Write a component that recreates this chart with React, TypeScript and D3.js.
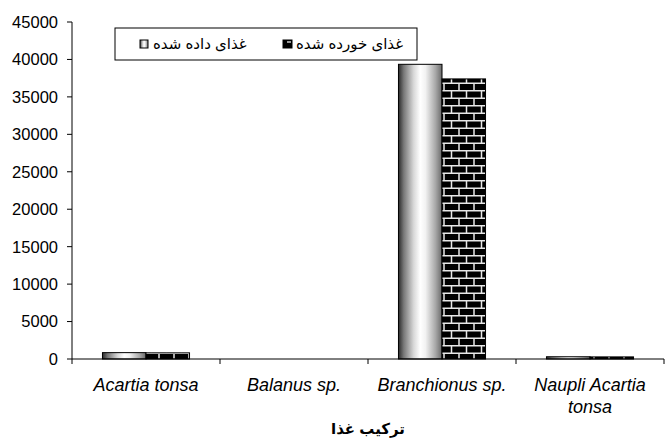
import React from "react";
import * as d3 from "d3";

const categories = ["Acartia tonsa", "Balanus sp.", "Branchionus sp.", "Naupli Acartia tonsa"];
const seriesNames = ["غذای داده شده", "غذای خورده شده"];
const givenValues = [850, 0, 39350, 300];
const eatenValues = [820, 0, 37400, 280];
const yTicks = [0, 5000, 10000, 15000, 20000, 25000, 30000, 35000, 40000, 45000];
const xTitle = "ترکیب غذا";

const W = 665, H = 444;
const left = 72, right = 664, top = 22, bottom = 359;

export default function App() {
  const y = d3.scaleLinear().domain([0, 45000]).range([bottom, top]);
  const x0 = d3.scaleBand<string>().domain(categories).range([left, right]).padding(0);
  const x1 = d3.scaleBand<string>().domain(seriesNames).range([0, x0.bandwidth()]).paddingInner(0).paddingOuter(0.7);
  const series = [givenValues, eatenValues];
  const fills = ["url(#cyl)", "url(#brick)"];
  const font = "'Liberation Sans', Arial, 'DejaVu Sans', sans-serif";

  const wrapLabel = (s: string) => (s === "Naupli Acartia tonsa" ? ["Naupli Acartia", "tonsa"] : [s]);

  return (
    <svg width={W} height={H} style={{ position: "absolute", left: 0, top: 0, background: "#fff" }} fontFamily={font}>
      <defs>
        <linearGradient id="cyl" x1="0" x2="1" y1="0" y2="0">
          <stop offset="0" stopColor="#2a2a2a" />
          <stop offset="0.12" stopColor="#777" />
          <stop offset="0.35" stopColor="#d8d8d8" />
          <stop offset="0.5" stopColor="#ffffff" />
          <stop offset="0.62" stopColor="#f2f2f2" />
          <stop offset="0.85" stopColor="#a8a8a8" />
          <stop offset="1" stopColor="#6a6a6a" />
        </linearGradient>
        <pattern id="brick" patternUnits="userSpaceOnUse" width={15} height={15} x={444} y={0}>
          <rect width={15} height={15} fill="#000" />
          <path d="M0 0.75H15M0 8.25H15M7.5 0.75V8.25M0 8.25V15M15 8.25V15" stroke="#e8e8e8" strokeWidth={1.5} fill="none" />
        </pattern>
      </defs>

      {/* bars */}
      {categories.map((c, i) =>
        seriesNames.map((s, j) => {
          const v = series[j][i];
          if (v <= 0) return null;
          const bx = x0(c)! + x1(s)!;
          const by = y(v);
          return (
            <rect key={c + s} x={bx} y={by} width={x1.bandwidth()} height={bottom - by}
              fill={fills[j]} stroke="#000" strokeWidth={1} />
          );
        })
      )}

      {/* y axis */}
      <line x1={left} x2={left} y1={top} y2={bottom} stroke="#000" />
      {yTicks.map((t) => (
        <g key={t}>
          <line x1={left - 5} x2={left} y1={y(t)} y2={y(t)} stroke="#000" />
          <text x={left - 14} y={y(t)} dy="0.36em" textAnchor="end" fontSize={16.5} fill="#000">{t}</text>
        </g>
      ))}

      {/* x axis */}
      <line x1={left} x2={right} y1={bottom} y2={bottom} stroke="#000" />
      {categories.map((c, i) => (
        <line key={"t" + i} x1={x0(c)!} x2={x0(c)!} y1={bottom} y2={bottom + 5} stroke="#000" />
      ))}
      <line x1={right} x2={right} y1={bottom} y2={bottom + 5} stroke="#000" />
      {categories.map((c) => {
        const lines = wrapLabel(c);
        const cx = x0(c)! + x0.bandwidth() / 2;
        return (
          <text key={"l" + c} x={cx} y={391} textAnchor="middle" fontSize={18} fontStyle="italic" fill="#000">
            {lines.map((ln, k) => (
              <tspan key={k} x={cx} dy={k === 0 ? 0 : 22}>{ln}</tspan>
            ))}
          </text>
        );
      })}

      <text x={(left + right) / 2} y={434} textAnchor="middle" fontSize={15} fontWeight="bold" fill="#000">{xTitle}</text>

      {/* legend */}
      <rect x={115} y={28} width={302} height={32} fill="#fff" stroke="#000" strokeWidth={1} />
      <rect x={140} y={40} width={8} height={8} fill="url(#cyl)" stroke="#000" strokeWidth={1} />
      <text x={153} y={44} dy="0.35em" fontSize={15} fill="#000" direction="rtl" textAnchor="end">{seriesNames[0]}</text>
      <rect x={283} y={40} width={9} height={8} fill="#000" stroke="#000" strokeWidth={1} />
      <line x1={287} x2={291} y1={42} y2={42} stroke="#fff" strokeWidth={1.2} />
      <text x={296} y={44} dy="0.35em" fontSize={15} fill="#000" direction="rtl" textAnchor="end">{seriesNames[1]}</text>
    </svg>
  );
}
